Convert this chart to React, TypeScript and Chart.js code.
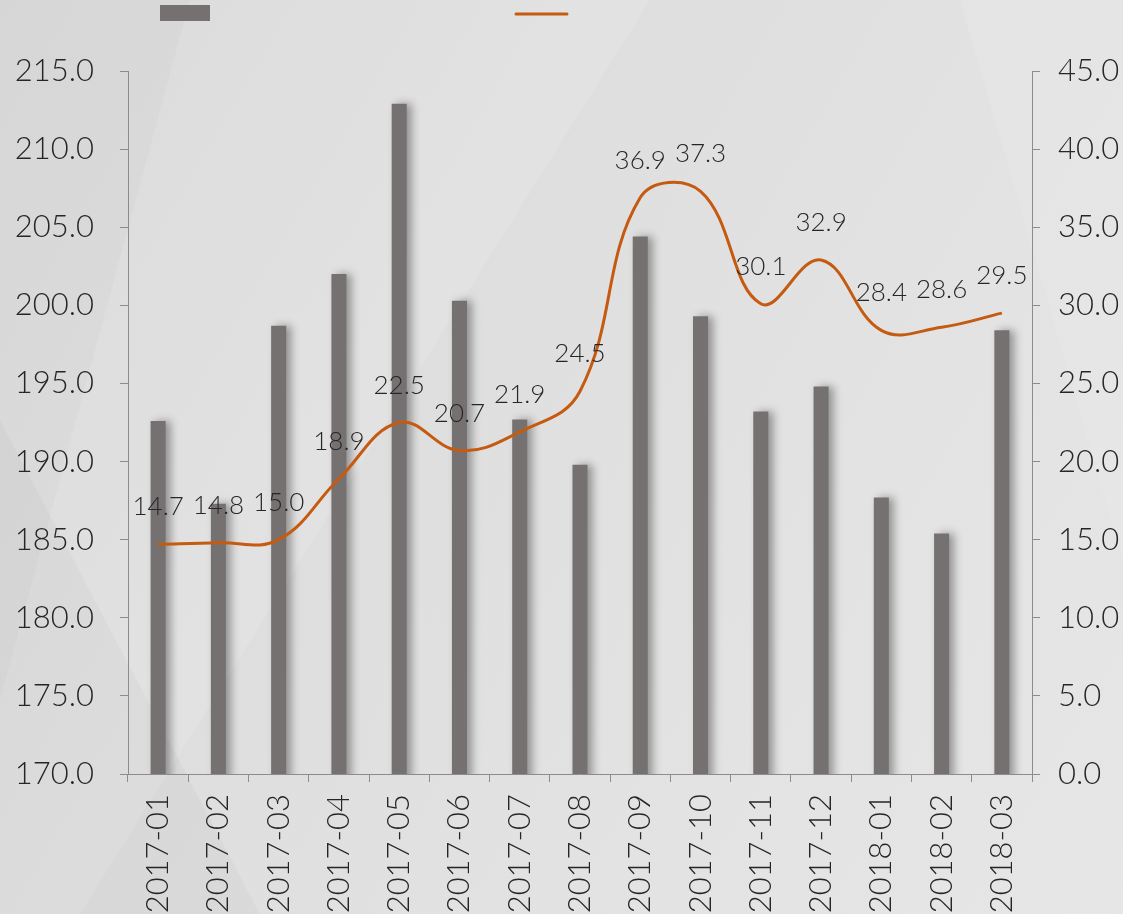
import React, { useEffect, useRef } from "react";
import { Chart, registerables } from "chart.js";

Chart.register(...registerables);

const categories = [
  "2017-01", "2017-02", "2017-03", "2017-04", "2017-05", "2017-06", "2017-07", "2017-08",
  "2017-09", "2017-10", "2017-11", "2017-12", "2018-01", "2018-02", "2018-03",
];
const barValues = [192.6, 187.3, 198.7, 202.0, 212.9, 200.3, 192.7, 189.8, 204.4, 199.3, 193.2, 194.8, 187.7, 185.4, 198.4];
const lineValues = [14.7, 14.8, 15.0, 18.9, 22.5, 20.7, 21.9, 24.5, 36.9, 37.3, 30.1, 32.9, 28.4, 28.6, 29.5];
const leftAxis = { min: 170, max: 215, step: 5 };
const rightAxis = { min: 0, max: 45, step: 5 };

const BAR_COLOR = "#767171";
const LINE_COLOR = "#c55a11";
const AXIS_COLOR = "#8c8c8c";
const TEXT_COLOR = "#262626";
const FONT_FAMILY = "Lato, 'Open Sans', sans-serif";

const barShadow = {
  id: "barShadow",
  beforeDatasetDraw(chart: any, args: any) {
    if (args.index !== 0) return;
    const ctx = chart.ctx;
    ctx.save();
    ctx.shadowColor = "rgba(0,0,0,0.35)";
    ctx.shadowBlur = 8;
    ctx.shadowOffsetX = 5;
    ctx.shadowOffsetY = 0;
  },
  afterDatasetDraw(chart: any, args: any) {
    if (args.index !== 0) return;
    chart.ctx.restore();
  },
};

const lineLabels = {
  id: "lineLabels",
  afterDatasetsDraw(chart: any) {
    const meta = chart.getDatasetMeta(1);
    const ctx = chart.ctx;
    ctx.save();
    ctx.font = `300 26px ${FONT_FAMILY}`;
    ctx.fillStyle = TEXT_COLOR;
    ctx.textAlign = "center";
    ctx.textBaseline = "alphabetic";
    meta.data.forEach((pt: any, i: number) => {
      const v = chart.data.datasets[1].data[i] as number;
      ctx.fillText(v.toFixed(1), pt.x, pt.y - 29);
    });
    ctx.restore();
  },
};

const customLegend = {
  id: "customLegend",
  afterDraw(chart: any) {
    const ctx = chart.ctx;
    ctx.save();
    ctx.fillStyle = BAR_COLOR;
    ctx.fillRect(160, 5, 50, 16);
    ctx.strokeStyle = LINE_COLOR;
    ctx.lineWidth = 3;
    ctx.lineCap = "round";
    ctx.beginPath();
    ctx.moveTo(516, 14);
    ctx.lineTo(567, 14);
    ctx.stroke();
    ctx.restore();
  },
};

export default function App() {
  const canvasRef = useRef<HTMLCanvasElement | null>(null);

  useEffect(() => {
    document.body.style.margin = "0";
    const canvas = canvasRef.current;
    if (!canvas) return;
    const tickFont = { family: FONT_FAMILY, size: 31, weight: 300 as any };
    const chart = new Chart(canvas, {
      type: "bar",
      data: {
        labels: categories,
        datasets: [
          {
            type: "bar",
            data: barValues,
            backgroundColor: BAR_COLOR,
            barPercentage: 0.25,
            categoryPercentage: 1,
            yAxisID: "y",
            order: 1,
          } as any,
          {
            type: "line",
            data: lineValues,
            borderColor: LINE_COLOR,
            borderWidth: 3,
            pointRadius: 0,
            tension: 0.4,
            fill: false,
            yAxisID: "y1",
            order: 0,
          } as any,
        ],
      },
      options: {
        animation: false,
        responsive: true,
        maintainAspectRatio: false,
        layout: { padding: { top: 71, left: 0, right: 0, bottom: 0 } },
        plugins: { legend: { display: false }, tooltip: { enabled: false } },
        scales: {
          x: {
            grid: { display: true, drawOnChartArea: false, offset: true, tickLength: 8, color: AXIS_COLOR },
            border: { display: true, color: AXIS_COLOR, width: 1 },
            ticks: { minRotation: 90, maxRotation: 90, padding: 12, font: tickFont, color: TEXT_COLOR, autoSkip: false },
            afterFit: (s: any) => { s.height = 140; },
          },
          y: {
            position: "left",
            min: leftAxis.min,
            max: leftAxis.max,
            ticks: {
              stepSize: leftAxis.step,
              padding: 26,
              font: tickFont,
              color: TEXT_COLOR,
              callback: (v: any) => Number(v).toFixed(1),
            },
            grid: { display: true, drawOnChartArea: false, tickLength: 8, color: AXIS_COLOR },
            border: { display: true, color: AXIS_COLOR, width: 1 },
            afterFit: (s: any) => { s.width = 128; },
          },
          y1: {
            position: "right",
            min: rightAxis.min,
            max: rightAxis.max,
            ticks: {
              stepSize: rightAxis.step,
              padding: 18,
              font: tickFont,
              color: TEXT_COLOR,
              callback: (v: any) => Number(v).toFixed(1),
            },
            grid: { display: true, drawOnChartArea: false, tickLength: 8, color: AXIS_COLOR },
            border: { display: true, color: AXIS_COLOR, width: 1 },
            afterFit: (s: any) => { s.width = 91; },
          },
        },
      },
      plugins: [barShadow, lineLabels, customLegend],
    });
    return () => chart.destroy();
  }, []);

  return (
    <div
      style={{
        position: "fixed",
        left: 0,
        top: 0,
        width: 1123,
        height: 914,
        background: "linear-gradient(120deg, #d6d6d6 0%, #dedede 35%, #e3e3e3 70%, #e6e6e6 100%)",
        overflow: "hidden",
      }}
    >
      <svg width={1123} height={914} style={{ position: "absolute", left: 0, top: 0 }}>
        <polygon points="190,0 650,0 80,914 0,914 0,700" fill="rgba(255,255,255,0.12)" />
        <polygon points="960,0 1123,0 1123,560" fill="rgba(255,255,255,0.10)" />
        <polygon points="0,420 260,914 0,914" fill="rgba(0,0,0,0.025)" />
      </svg>
      <canvas ref={canvasRef} style={{ position: "absolute", left: 0, top: 0 }} />
    </div>
  );
}
